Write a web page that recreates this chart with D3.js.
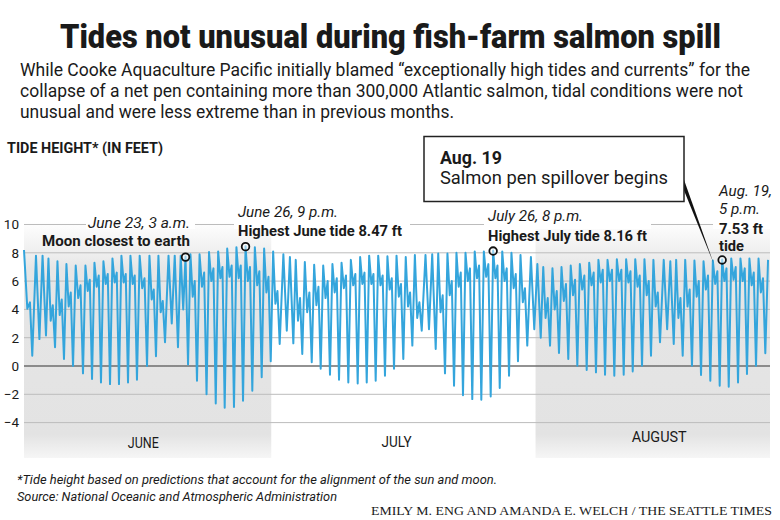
<!DOCTYPE html>
<html><head><meta charset="utf-8">
<script src="https://cdn.jsdelivr.net/npm/d3@7"></script>
<style>
body{margin:0;background:#fff;}
svg{display:block;}
text{font-family:Roboto,"Open Sans",sans-serif;fill:#1a1a1a;}
</style>
</head><body>
<svg id="c" width="780" height="520"></svg>
<script>
// ---------- DATA (days counted from June 1, 00:00; heights in feet) ----------
const leadDay = [1.0, 1.39, 1.70];
const leadFt  = [8.2, 4.05, 4.5];

// time of each lower-low of the tidal cycle
const llDay = [1.97,3.58,4.64,5.69,6.75,7.92,8.98,10.03,11.09,12.14,13.20,14.25,15.43,16.48,17.54,19.06,20.24,21.29,22.41,23.49,
  24.54,25.63,26.69,27.78,28.88,29.94,30.99,32.59,33.64,34.75,35.80,36.89,37.95,39.04,40.14,41.20,42.25,43.34,44.40,45.49,
  46.55,47.65,49.29,50.38,51.44,52.49,53.58,54.64,55.74,56.80,57.89,58.94,60.03,61.61,62.70,63.75,64.84,65.90,67.00,68.09,
  69.15,70.24,71.34,72.40,73.49,74.54,75.60,77.21,78.26,79.35,80.41,81.50,82.60,83.66,84.75,85.80,86.86,87.95];
// lower-low heights
const llFt = [0.73,2.15,1.33,0.50,0.00,-0.52,-0.92,-1.16,-1.28,-1.28,-1.16,-0.97,0.00,0.69,1.68,1.33,0.10,-1.04,-2.00,-2.65,
  -2.95,-2.90,-2.46,-1.75,-0.80,0.33,1.56,1.60,0.85,0.26,-0.20,-0.62,-0.97,-1.16,-1.23,-1.16,-1.04,-0.69,-0.20,0.50,
  1.44,2.50,1.20,-0.52,-1.40,-2.06,-2.34,-2.39,-2.15,-1.56,-0.69,0.33,1.44,2.00,1.44,0.92,0.50,0.02,-0.28,-0.45,
  -0.62,-0.69,-0.62,-0.38,0.02,0.73,1.68,1.56,0.73,0.02,-0.64,-1.04,-1.40,-1.47,-1.16,-0.57,0.02,0.90];
// high water after each lower low
const hhFt = [7.8,7.6,7.4,7.2,7.1,7.1,7.3,7.4,7.6,7.8,7.8,7.8,7.8,7.8,7.8,7.8,7.9,7.9,8.05,8.1,
  8.3,8.4,8.47,8.4,8.3,8.1,7.9,7.5,7.35,7.15,7.1,7.2,7.3,7.5,7.7,7.8,7.8,7.75,7.8,7.7,
  7.85,7.85,7.95,7.95,8.0,8.0,8.1,8.1,8.16,8.1,8.0,7.85,7.7,7.0,6.9,7.0,7.1,7.2,7.3,7.5,
  7.5,7.55,7.55,7.55,7.55,7.5,7.5,7.5,7.5,7.45,7.4,7.45,7.53,7.6,7.6,7.6,7.6];
// following (higher) low water
const hlFt = [1.9,3.2,3.6,4.2,4.8,5.3,5.6,5.8,5.9,5.9,5.8,5.5,4.7,3.8,3.0,4.0,4.9,5.6,6.0,6.2,
  6.3,6.2,6.0,5.7,5.2,4.4,2.5,3.2,3.8,4.3,4.8,5.2,5.5,5.7,5.8,5.8,5.7,5.4,4.9,4.2,
  3.4,2.6,3.8,5.0,5.6,6.0,6.2,6.3,6.2,6.0,5.5,4.5,2.6,3.4,4.0,4.6,5.0,5.4,5.7,5.9,
  6.0,6.0,5.9,5.6,5.0,4.2,2.6,3.4,4.2,4.9,5.4,5.8,6.0,6.1,6.0,5.7,5.2];
// following (lower) high water
const lhFt = [7.8,4.3,4.7,5.2,5.7,6.1,6.4,6.5,6.6,6.5,6.4,6.2,5.4,4.6,7.8,7.73,6.0,6.6,6.9,7.0,
  7.1,7.1,7.0,6.7,6.3,5.3,7.7,4.8,5.2,5.6,6.0,6.2,6.4,6.5,6.6,6.5,6.4,6.2,5.8,5.2,
  4.5,7.9,5.0,6.0,6.6,6.9,7.1,7.2,7.1,6.9,6.5,5.5,7.2,4.8,5.3,5.8,6.1,6.4,6.6,6.8,
  6.8,6.8,6.7,6.4,6.0,5.2,7.4,4.8,5.4,6.0,6.4,6.7,6.9,7.0,6.9,6.6,6.2];
const endDay = [88.27];
const endFt  = [7.5];

const yTicks = [-4,-2,0,2,4,6,8,10];
const monthNames = ["JUNE","JULY","AUGUST"];
const monthStart = [1, 30, 61];
const monthEnd   = [30, 61, 88.5];
const monthShaded = [true, false, true];
const monthLabelDay = [15.0, 44.7, 75.5];

// annotated tide points: [cycle index, which extreme]
const noteCycle = [15, 22, 48, 72];
const noteKind  = ["lh", "hh", "hh", "hh"];

// ---------- LAYOUT ----------
const svg = d3.select("#c");
const x = d3.scaleLinear().domain([1, 88.5]).range([24, 770]);
const y = d3.scaleLinear().domain([-4, 10]).range([422.6, 224.5]);
const frac = {hh: 0.27, hl: 0.52, lh: 0.75};
const monthLabelBase = [448, 447, 442];

// build the tide series
const pts = [];
leadDay.forEach((d, i) => pts.push([d, leadFt[i]]));
llDay.forEach((d, i) => {
  pts.push([d, llFt[i]]);
  if (i < hhFt.length) {
    const dt = llDay[i + 1] - d;
    pts.push([d + frac.hh * dt, hhFt[i]]);
    pts.push([d + frac.hl * dt, hlFt[i]]);
    pts.push([d + frac.lh * dt, lhFt[i]]);
  }
});
endDay.forEach((d, i) => pts.push([d, endFt[i]]));

function notePoint(ci, kind) {
  const dt = llDay[ci + 1] - llDay[ci];
  const v = kind === "hh" ? hhFt[ci] : kind === "hl" ? hlFt[ci] : lhFt[ci];
  return [llDay[ci] + frac[kind] * dt, v];
}

// defs: band gradient
const defs = svg.append("defs");
const g = defs.append("linearGradient").attr("id", "band").attr("x1", 0).attr("x2", 0).attr("y1", 0).attr("y2", 1);
g.append("stop").attr("offset", "0").attr("stop-color", "#ffffff");
g.append("stop").attr("offset", "0.2").attr("stop-color", "#e6e6e6");
g.append("stop").attr("offset", "0.9").attr("stop-color", "#e3e3e3");
g.append("stop").attr("offset", "1").attr("stop-color", "#f6f6f6");

// month bands
svg.append("g").selectAll("rect").data(monthNames.map((m, i) => i).filter(i => monthShaded[i]))
  .join("rect")
  .attr("x", i => x(monthStart[i])).attr("width", i => x(monthEnd[i]) - x(monthStart[i]))
  .attr("y", 221).attr("height", 237).attr("fill", "url(#band)");

// gridlines
svg.append("g").selectAll("line").data(yTicks).join("line")
  .attr("x1", x(1)).attr("x2", x(88.5))
  .attr("y1", d => y(d)).attr("y2", d => y(d))
  .attr("stroke", d => d === 0 ? "#6e6e6e" : "#bcbcbc")
  .attr("stroke-width", d => d === 0 ? 1.3 : 1);

// y axis labels
const yAxis = d3.axisLeft(y).tickValues(yTicks).tickSize(0).tickPadding(0);
const ya = svg.append("g").attr("transform", "translate(19,0)").call(yAxis);
ya.select(".domain").remove();
ya.selectAll("text").attr("font-size", 13.5).attr("fill", "#1a1a1a")
  .style("font-family", "Roboto, sans-serif");

// white gaps behind annotation texts on the 10 gridline
const gaps = [[86, 195], [234, 410], [484, 651], [713, 776]];
svg.append("g").selectAll("rect").data(gaps).join("rect")
  .attr("x", d => d[0]).attr("width", d => d[1] - d[0])
  .attr("y", 219).attr("height", 10).attr("fill", "#fff");

// tide line
svg.append("path").datum(pts)
  .attr("fill", "none").attr("stroke", "#34a5dc").attr("stroke-width", 2)
  .attr("stroke-linejoin", "round")
  .attr("d", d3.line().x(d => x(d[0])).y(d => y(d[1])));

// annotation circles
svg.append("g").selectAll("circle").data(noteCycle.map((c, i) => notePoint(c, noteKind[i])))
  .join("circle")
  .attr("cx", d => x(d[0])).attr("cy", d => y(d[1]) + 0.5).attr("r", 3.8)
  .attr("fill", "#fff").attr("fill-opacity", 0.5)
  .attr("stroke", "#111").attr("stroke-width", 1.8);

// helper for text: fits natural width to target by shrinking the font and
// restoring glyph height with a vertical scale (condensed look)
function txt(s, xx, yy, opt) {
  const size = opt.size || 14;
  const t = svg.append("text").attr("x", 0).attr("y", 0).text(s)
    .attr("font-size", size);
  if (opt.weight) t.attr("font-weight", opt.weight);
  if (opt.italic) t.attr("font-style", "italic");
  if (opt.anchor) t.attr("text-anchor", opt.anchor);
  if (opt.family) t.style("font-family", opt.family);
  if (opt.fill) t.style("fill", opt.fill);
  let k = 1;
  if (opt.len) {
    const L = t.node().getComputedTextLength();
    if (L > opt.len) {
      const ns = size * opt.len / L;
      t.attr("font-size", ns);
      k = size / ns;
    }
    t.attr("textLength", opt.len).attr("lengthAdjust", "spacingAndGlyphs");
  }
  t.attr("transform", `translate(${xx},${yy}) scale(1,${k})`);
  return t;
}

// month labels
monthNames.forEach((m, i) => {
  txt(m, x(monthLabelDay[i]), monthLabelBase[i], {size: 15.5, anchor: "middle", len: [31, 30, 55][i]});
});

// title & subtitle
txt("Tides not unusual during fish-farm salmon spill", 60, 48, {size: 34, weight: 900, len: 661});
txt("While Cooke Aquaculture Pacific initially blamed \u201cexceptionally high tides and currents\u201d for the", 20, 76, {size: 18.5, len: 730});
txt("collapse of a net pen containing more than 300,000 Atlantic salmon, tidal conditions were not", 20, 97, {size: 18.5, len: 723});
txt("unusual and were less extreme than in previous months.", 20, 118, {size: 18.5, len: 434});

// axis title
txt("TIDE HEIGHT* (IN FEET)", 7, 153, {size: 15, weight: 700, len: 156});

// annotations
txt("June 23, 3 a.m.", 190, 228, {size: 14.5, italic: true, anchor: "end", len: 102});
txt("Moon closest to earth", 190, 246, {size: 14.5, weight: 700, anchor: "end", len: 148});
txt("June 26, 9 p.m.", 238, 217, {size: 14.5, italic: true, len: 100});
txt("Highest June tide 8.47 ft", 238, 236, {size: 14.5, weight: 700, len: 164});
txt("July 26, 8 p.m.", 488, 221, {size: 14.5, italic: true, len: 95});
txt("Highest July tide 8.16 ft", 488, 241, {size: 14.5, weight: 700, len: 159});
txt("Aug. 19,", 719, 196, {size: 14.5, italic: true, len: 53});
txt("5 p.m.", 719, 214, {size: 14.5, italic: true, len: 41});
txt("7.53 ft", 719, 234, {size: 14.5, weight: 700, len: 44});
txt("tide", 719, 251, {size: 14.5, weight: 700, len: 25});

// callout box
svg.append("path").attr("d", "M683,177 L683,188 L713.5,263 Z").attr("fill", "#111");
svg.append("rect").attr("x", 424).attr("y", 136.5).attr("width", 260).attr("height", 65)
  .attr("fill", "#fff").attr("stroke", "#222").attr("stroke-width", 1.5);
txt("Aug. 19", 440, 164, {size: 18, weight: 700, len: 62});
txt("Salmon pen spillover begins", 440, 184, {size: 18.5, len: 228});

// footer
txt("*Tide height based on predictions that account for the alignment of the sun and moon.", 17, 484, {size: 13, italic: true, len: 480});
txt("Source: National Oceanic and Atmospheric Administration", 17, 501, {size: 13, italic: true, len: 320});
txt("EMILY M. ENG AND AMANDA E. WELCH / THE SEATTLE TIMES", 371, 515, {size: 12, family: "'Liberation Serif', 'DejaVu Serif', serif", len: 401});
</script>
</body></html>
